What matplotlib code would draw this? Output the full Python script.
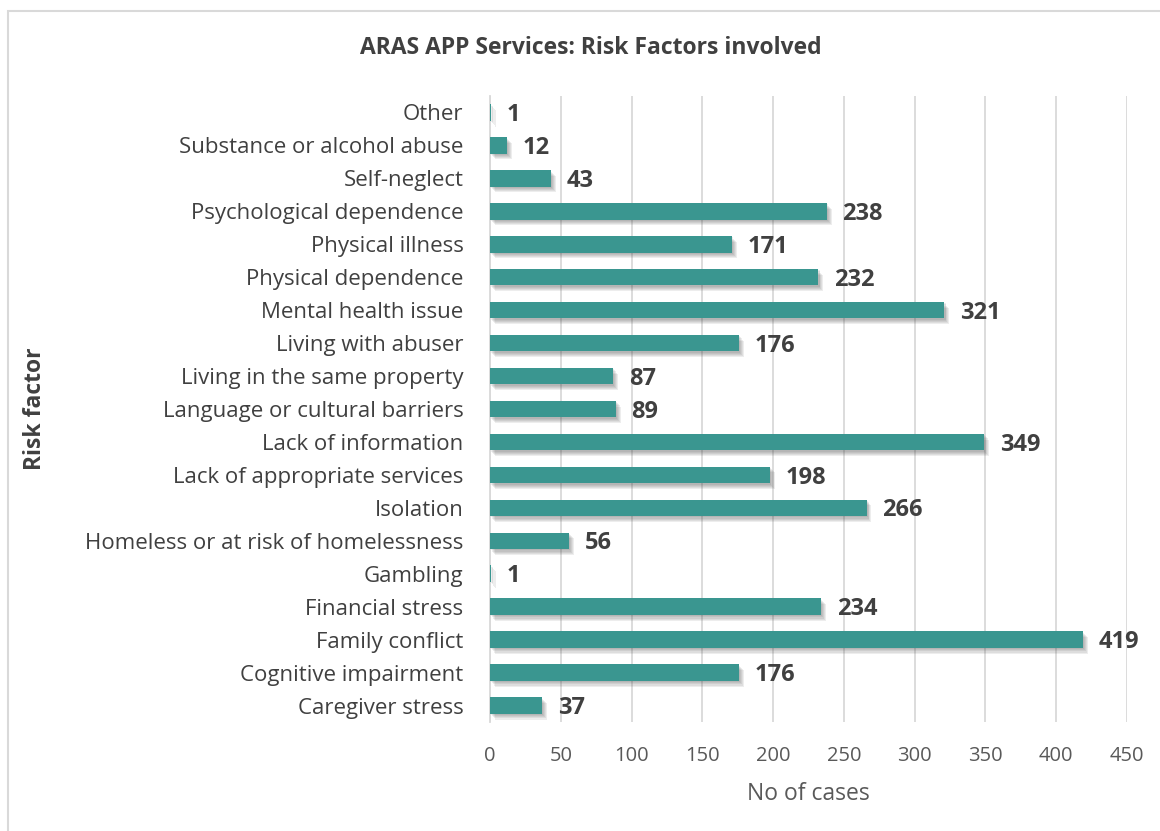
import matplotlib
matplotlib.use("Agg")
import matplotlib.pyplot as plt
import matplotlib.patheffects as pe
from matplotlib.patches import Rectangle

plt.rcParams['font.family'] = ['Open Sans', 'DejaVu Sans']

categories = [
    "Caregiver stress", "Cognitive impairment", "Family conflict",
    "Financial stress", "Gambling", "Homeless or at risk of homelessness",
    "Isolation", "Lack of appropriate services", "Lack of information",
    "Language or cultural barriers", "Living in the same property",
    "Living with abuser", "Mental health issue", "Physical dependence",
    "Physical illness", "Psychological dependence", "Self-neglect",
    "Substance or alcohol abuse", "Other",
]
cases = [37, 176, 419, 234, 1, 56, 266, 198, 349, 89, 87, 176, 321, 232,
         171, 238, 43, 12, 1]
x_ticks = [0, 50, 100, 150, 200, 250, 300, 350, 400, 450]

bar_color = "#3a9690"
text_dark = "#404040"
tick_color = "#595959"
grid_color = "#d9d9d9"

fig = plt.figure(figsize=(11.6, 8.31), dpi=100)
ax = fig.add_axes([490 / 1160, 1 - 722 / 831, 637 / 1160, 626 / 831])

ypos = list(range(len(categories)))
bars = ax.barh(ypos, cases, height=0.5, color=bar_color, zorder=3)
# soft drop shadow built from a few faint offset copies
shadow = [pe.SimplePatchShadow(offset=(o * 0.8, -o), shadow_rgbFace="#404040",
                               alpha=0.09) for o in (1.0, 1.8, 2.6, 3.4, 4.2)]
for b in bars:
    b.set_path_effects(shadow + [pe.Normal()])

for y, v in zip(ypos, cases):
    ax.text(v + 11, y - 0.08, str(v), va="center", ha="left", fontsize=17,
            fontweight="bold", color=text_dark, zorder=4)

ax.set_xlim(0, 450)
ax.set_ylim(-0.5, len(categories) - 0.5)
ax.set_xticks(x_ticks)
ax.set_xticklabels([str(t) for t in x_ticks], fontsize=14.5, color=tick_color)
ax.set_yticks(ypos)
ax.set_yticklabels(categories, fontsize=16, color=text_dark)
ax.tick_params(axis="both", length=0)
ax.tick_params(axis="x", pad=17)
ax.tick_params(axis="y", pad=19)

ax.grid(axis="x", color=grid_color, linewidth=1.3, zorder=0)
for side in ["top", "right", "bottom"]:
    ax.spines[side].set_visible(False)
ax.spines["left"].set_color(grid_color)
ax.spines["left"].set_linewidth(1.3)

ax.set_xlabel("No of cases", fontsize=16.5, color=tick_color, labelpad=12)

fig.text(35 / 1160, 1 - 409 / 831, "Risk factor", rotation=90,
         ha="center", va="center", fontsize=16.5, fontweight="bold",
         color=text_dark)

fig.text(591 / 1160, 1 - 48 / 831, "ARAS APP Services: Risk Factors involved",
         ha="center", va="center", fontsize=16.5, fontweight="bold",
         color=text_dark)

fig.patches.append(Rectangle((8 / 1160, -0.05), 1.1, 1 - 11 / 831 + 0.05,
                             transform=fig.transFigure, fill=False,
                             edgecolor=grid_color, linewidth=1.5))

fig.savefig("out.png", dpi=100, facecolor="white")
